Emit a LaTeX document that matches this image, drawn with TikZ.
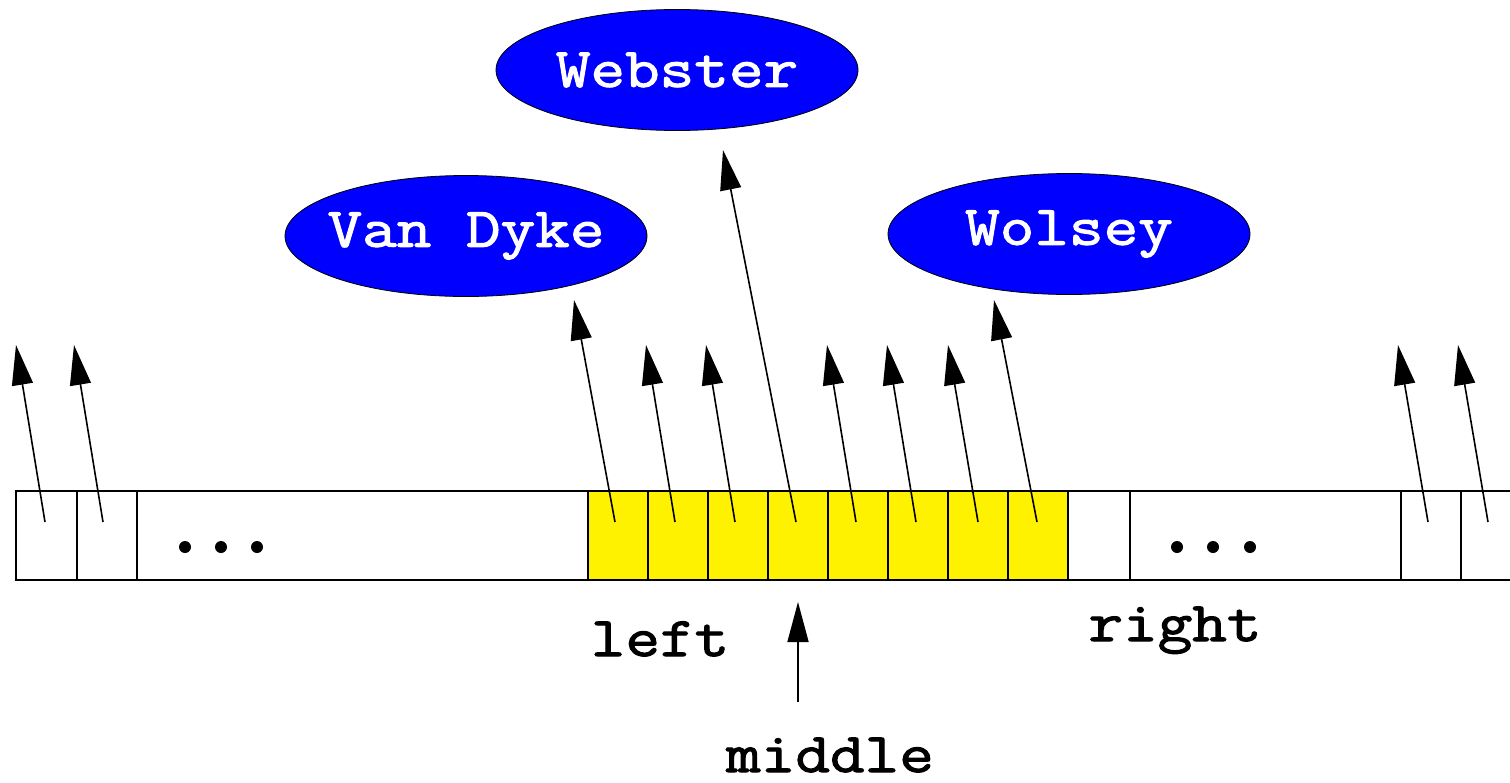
\documentclass[tikz,border=0pt]{standalone}
\usepackage{fontspec}
\newfontfamily\courfont[FakeBold=2,FakeStretch=1.2]{Latin Modern Mono}
\usetikzlibrary{shapes.geometric,arrows.meta}
\begin{document}
\begin{tikzpicture}[x=0.5pt,y=-0.5pt,
  cellbox/.style={draw=black,line width=0.7pt,rectangle,inner sep=0pt,minimum height=44.5pt},
  ycell/.style={cellbox,fill=yellow,minimum width=30pt},
  namebox/.style={ellipse,draw=black,line width=0.4pt,fill=blue,text=white,inner sep=0pt,
     minimum width=181pt,minimum height=60.5pt,font=\courfont\fontsize{28}{30}\selectfont},
  lbl/.style={anchor=base,inner sep=0pt,font=\courfont\fontsize{28}{30}\selectfont},
  ptr/.style={line width=0.8pt,-{Triangle[length=20pt,width=10.5pt]}},
  dots/.style={circle,fill=black,inner sep=0pt,minimum size=6pt}]
\useasboundingbox (0,0) rectangle (1510,782);
% ellipses
\node[namebox] (web) at (677,70) {\makebox[0pt]{Webster}};
\node[namebox] (van) at (466,236) {\makebox[0pt]{Van Dyke}};
\node[namebox] (wol) at (1069,234) {\makebox[0pt]{Wolsey}};
% cells
\node[cellbox,minimum width=30.5pt] (c1) at (46.5,535.5) {};
\node[cellbox,minimum width=30pt] (c2) at (107,535.5) {};
\node[cellbox,minimum width=225.5pt] (c3) at (362.5,535.5) {};
\node[ycell] (y1) at (618,535.5) {};
\node[ycell] (y2) at (678,535.5) {};
\node[ycell] (y3) at (738,535.5) {};
\node[ycell] (y4) at (798,535.5) {};
\node[ycell] (y5) at (858,535.5) {};
\node[ycell] (y6) at (918,535.5) {};
\node[ycell] (y7) at (978,535.5) {};
\node[ycell] (y8) at (1038,535.5) {};
\node[cellbox,minimum width=31pt] (c4) at (1099,535.5) {};
\node[cellbox,minimum width=135.5pt] (c5) at (1265.5,535.5) {};
\node[cellbox,minimum width=30pt] (c6) at (1431,535.5) {};
\node[cellbox,minimum width=30pt] (c7) at (1491,535.5) {};
% dots
\foreach \x [count=\i] in {185,221,257} \node[dots] (dl\i) at (\x,547) {};
\foreach \x [count=\i] in {1177,1213,1250} \node[dots] (dr\i) at (\x,547) {};
% tails
\coordinate (t1) at (45,522);
\coordinate (t2) at (103,522);
\coordinate (ty1) at (615,522);
\coordinate (ty2) at (675,522);
\coordinate (ty3) at (735,522);
\coordinate (ty4) at (796,522);
\coordinate (ty5) at (856,522);
\coordinate (ty6) at (916,522);
\coordinate (ty7) at (978,522);
\coordinate (ty8) at (1037,522);
\coordinate (t6) at (1428,522);
\coordinate (t7) at (1488,522);
% heads
\coordinate (h1) at (16,345);
\coordinate (h2) at (74,345);
\coordinate (hvan) at (574,300);
\coordinate (hy2) at (646,345);
\coordinate (hy3) at (706,345);
\coordinate (hweb) at (723,150);
\coordinate (hy5) at (827,345);
\coordinate (hy6) at (887,345);
\coordinate (hy7) at (948,345);
\coordinate (hwol) at (994,300);
\coordinate (h6) at (1398,345);
\coordinate (h7) at (1458,345);
\draw[ptr] (t1) -- (h1);
\draw[ptr] (t2) -- (h2);
\draw[ptr] (ty1) -- (hvan);
\draw[ptr] (ty2) -- (hy2);
\draw[ptr] (ty3) -- (hy3);
\draw[ptr] (ty4) -- (hweb);
\draw[ptr] (ty5) -- (hy5);
\draw[ptr] (ty6) -- (hy6);
\draw[ptr] (ty7) -- (hy7);
\draw[ptr] (ty8) -- (hwol);
\draw[ptr] (t6) -- (h6);
\draw[ptr] (t7) -- (h7);
% labels
\node[lbl] (left) at (660,656) {left};
\node[lbl] (right) at (1175,641) {right};
\node[lbl] (middle) at (830,772) {middle};
\coordinate (mtail) at (798,702);
\coordinate (mhead) at (798,602);
\draw[ptr] (mtail) -- (mhead);
\end{tikzpicture}
\end{document}
